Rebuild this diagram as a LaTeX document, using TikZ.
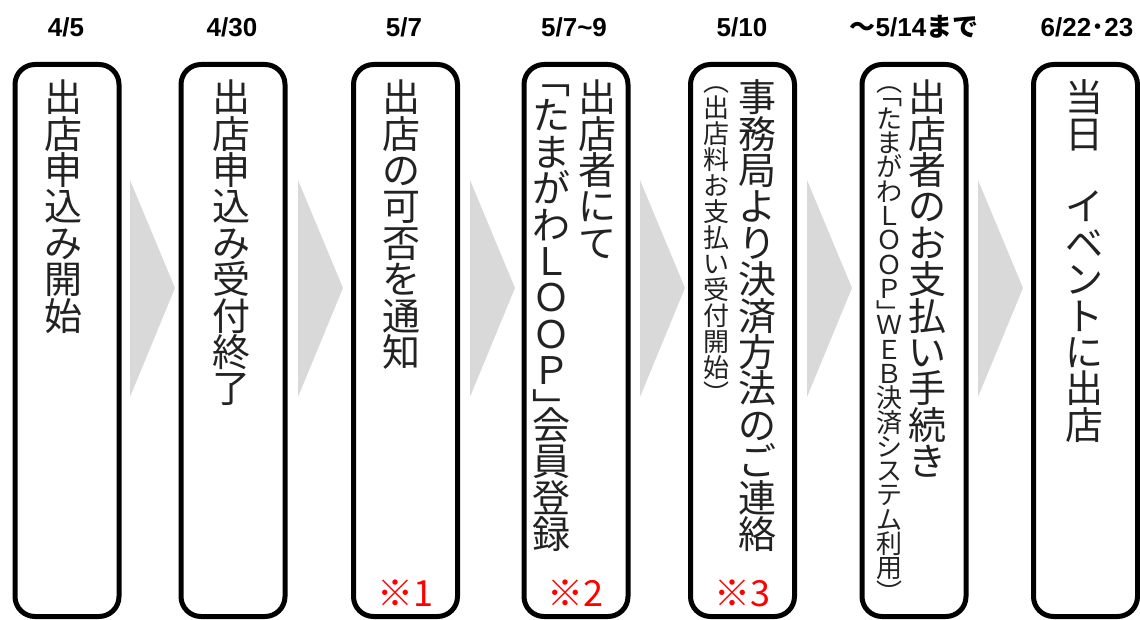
\documentclass[tikz,border=0pt]{standalone}
\usepackage{fontspec}
\setmainfont{Liberation Sans}
\newfontfamily\jp{Noto Sans CJK JP}
\definecolor{arrowgray}{HTML}{D9D9D9}
\definecolor{txt}{HTML}{222222}
\newcommand\vfull[6]{%
  \foreach \ch [count=\i] in {#6}{%
    \node[#5] (#1-\i) at (#2,{#3+(\i-0.5)*#4}) {\ch};
  }}
\newcommand\vcol[6]{%
  \xdef\vcy{#3}%
  \foreach \ch/\w/\o [count=\i] in {#6}{%
    \pgfmathsetmacro\yc{\vcy+\o*#4}%
    \node[#5] (#1-\i) at (#2,\yc) {\ch};
    \pgfmathsetmacro\yn{\vcy+\w*#4}%
    \xdef\vcy{\yn}%
  }}
\begin{document}
\begin{tikzpicture}[x=0.75pt,y=-0.75pt,
  box/.style={draw=black, line width=3.75pt, rounded corners=15pt, minimum width=78pt, minimum height=414pt, inner sep=0pt},
  vmain/.style={inner sep=0pt, text=txt, font=\jp\fontsize{28.5}{28.5}\selectfont, text height=25.08pt, text depth=3.42pt},
  vsub/.style={inner sep=0pt, text=txt, font=\jp\fontsize{19.5}{19.5}\selectfont, text height=17.16pt, text depth=2.34pt},
  date/.style={font=\bfseries\fontsize{19.5}{19.5}\selectfont, inner sep=0pt, text=black},
  note/.style={text=red, font=\jp\fontsize{27}{27}\selectfont, inner sep=0pt},
  chev/.style={fill=arrowgray, draw=none}]
\useasboundingbox (0,0) rectangle (1140,620);
% chevrons
\fill[chev] (130,180) -- (175,288) -- (130,397) -- cycle;
\fill[chev] (298,180) -- (343,288) -- (298,397) -- cycle;
\fill[chev] (470,180) -- (515,288) -- (470,397) -- cycle;
\fill[chev] (640,180) -- (685,288) -- (640,397) -- cycle;
\fill[chev] (807,180) -- (852,288) -- (807,397) -- cycle;
\fill[chev] (978,180) -- (1023,288) -- (978,397) -- cycle;
% boxes
\node[box] (b1) at (67,340.5) {};
\node[box] (b2) at (233,340.5) {};
\node[box] (b3) at (405.5,340.5) {};
\node[box] (b4) at (576,340.5) {};
\node[box] (b5) at (742.5,340.5) {};
\node[box] (b6) at (914,340.5) {};
\node[box] (b7) at (1085.5,340.5) {};
% dates
\node[date] (d1) at (66,27) {4/5};
\node[date] (d2) at (232,27) {4/30};
\node[date] (d3) at (404,27) {5/7};
\node[date] (d4) at (574,27) {5/7\char`\~9};
\node[date] (d5) at (742,27) {5/10};
\node[date] (d6) at (914,27) {{\jp\bfseries ～}5/14{\jp\bfseries まで}};
\node[date] (d7) at (1087,27) {6/22{\jp\bfseries ･}23};
% vertical texts
\vfull{t1}{64}{79}{36.4}{vmain}{出,店,申,込,み,開,始}
\vfull{t2}{231}{79}{36.4}{vmain}{出,店,申,込,み,受,付,終,了}
\vfull{t3}{401}{79}{36.4}{vmain}{出,店,の,可,否,を,通,知}
\vfull{t4a}{597}{79}{36.4}{vmain}{出,店,者,に,て}
\vcol{t4b}{551}{79}{36.4}{vmain}{﹁/0.5/0,た/1/0.5,ま/1/0.5,が/1/0.5,わ/1/0.5,Ｌ/1/0.5,Ｏ/1/0.5,Ｏ/1/0.5,Ｐ/1/0.5,﹂/0.5/0.5,会/1/0.5,員/1/0.5,登/1/0.5,録/1/0.5}
\vfull{t5a}{757}{79}{36.4}{vmain}{事,務,局,よ,り,決,済,方,法,の,ご,連,絡}
\vcol{t5b}{716}{82}{26}{vsub}{︵/0.5/0,出/1/0.5,店/1/0.5,料/1/0.5,お/1/0.5,支/1/0.5,払/1/0.5,い/1/0.5,受/1/0.5,付/1/0.5,開/1/0.5,始/1/0.5,︶/0.5/0.5}
\vfull{t6a}{927}{79}{36.4}{vmain}{出,店,者,の,お,支,払,い,手,続,き}
\vcol{t6b}{889}{82}{24.3}{vsub}{︵/0.5/0,﹁/0.5/0,た/1/0.5,ま/1/0.5,が/1/0.5,わ/1/0.5,Ｌ/1/0.5,Ｏ/1/0.5,Ｏ/1/0.5,Ｐ/1/0.5,﹂/0.5/0.5,Ｗ/1/0.5,Ｅ/1/0.5,Ｂ/1/0.5,決/1/0.5,済/1/0.5,シ/1/0.5,ス/1/0.5,テ/1/0.5,ム/1/0.5,利/1/0.5,用/1/0.5,︶/0.5/0.5}
\vfull{t7}{1084}{79}{36.4}{vmain}{当,日,　,イ,ベ,ン,ト,に,出,店}
% notes
\node[note] (n1) at (405,593) {※1};
\node[note] (n2) at (575,593) {※2};
\node[note] (n3) at (742,593) {※3};
\end{tikzpicture}
\end{document}
